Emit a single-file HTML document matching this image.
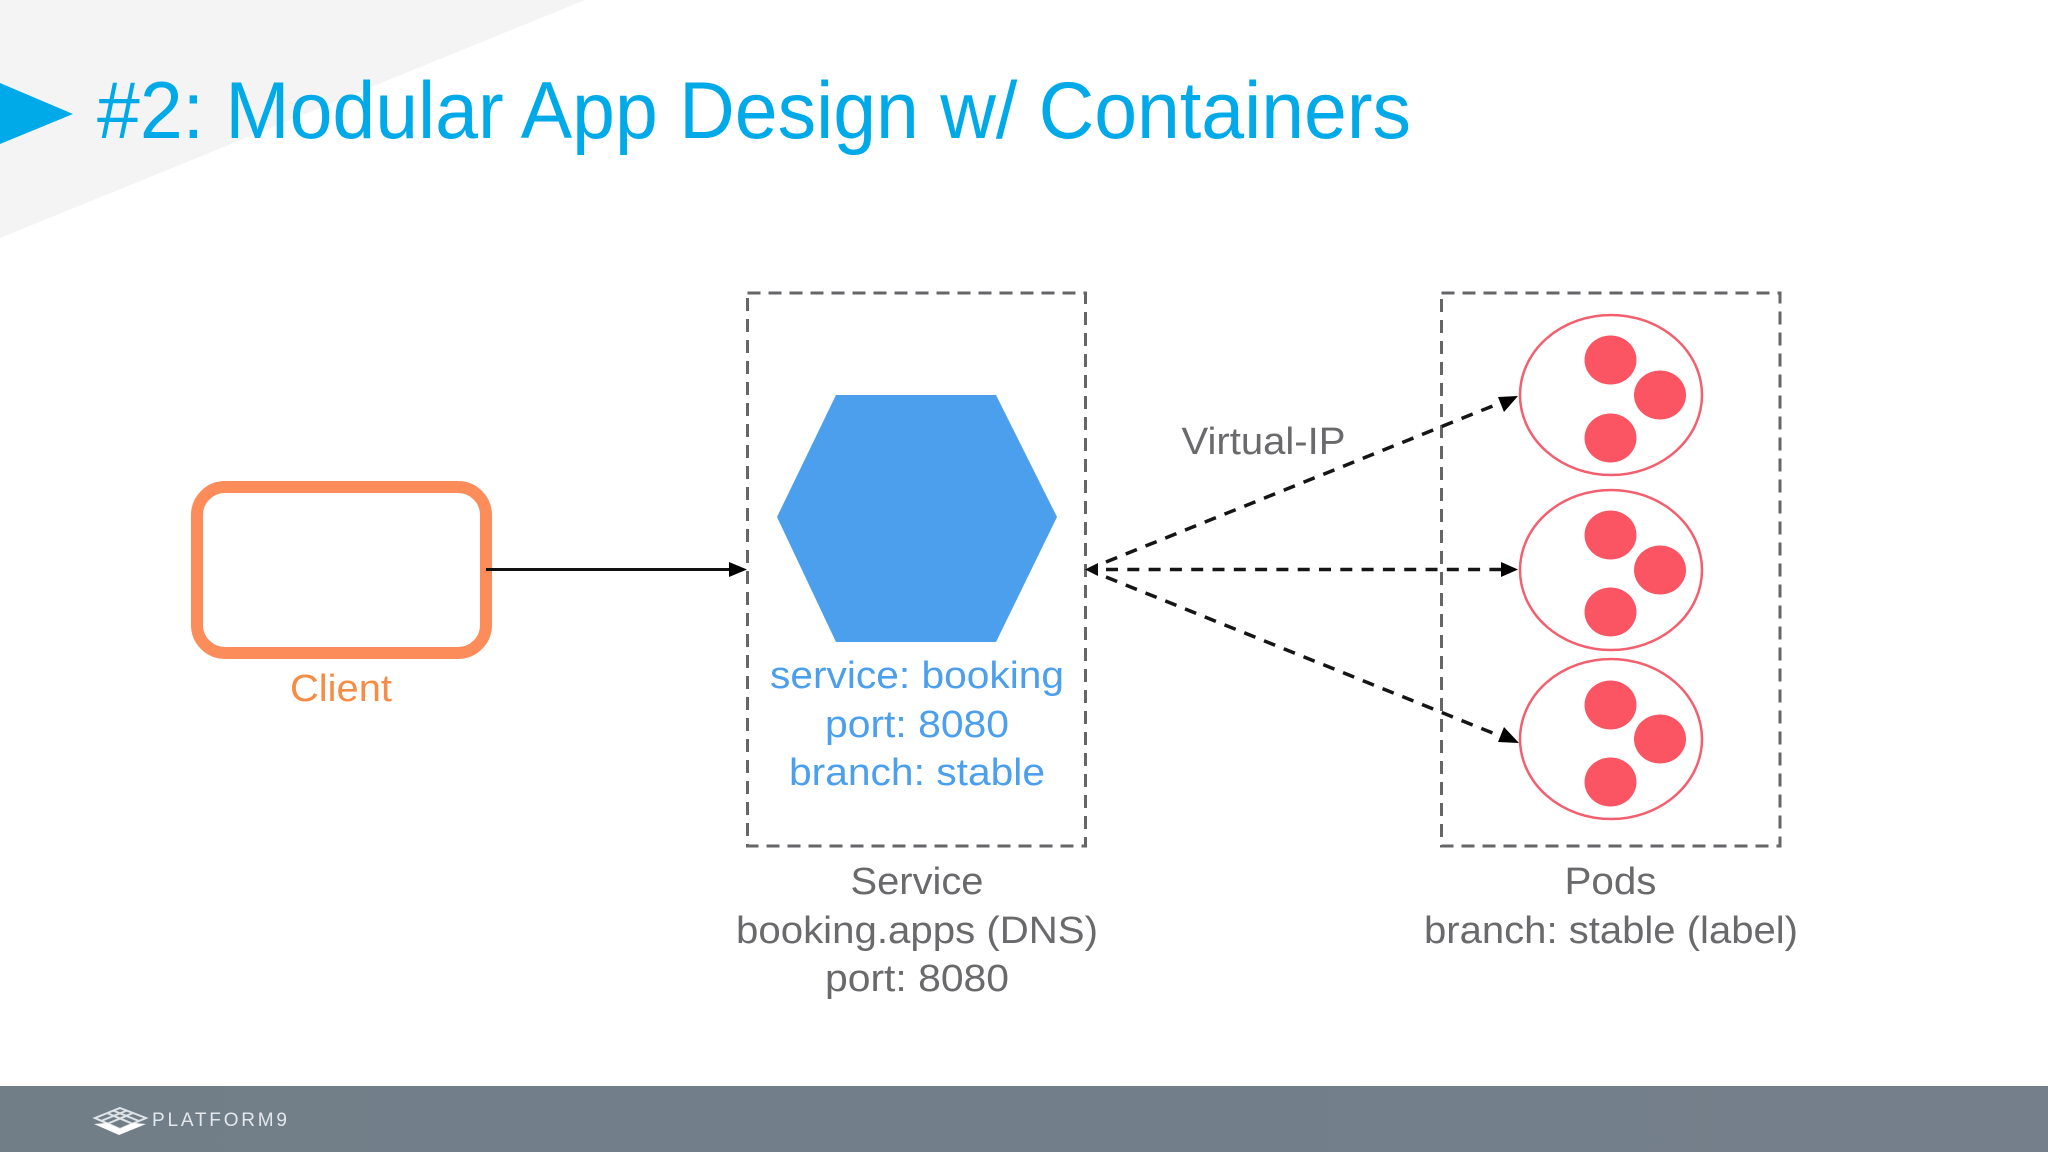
<!DOCTYPE html>
<html>
<head>
<meta charset="utf-8">
<style>
html,body{margin:0;padding:0;background:#fff;width:2048px;height:1152px;overflow:hidden}
svg{display:block}
text{font-family:"Liberation Sans",sans-serif}
</style>
</head>
<body>
<svg width="2048" height="1152" viewBox="0 0 2048 1152" xmlns="http://www.w3.org/2000/svg">
<defs>
<linearGradient id="foot" x1="0" x2="1" y1="0" y2="0"><stop offset="0" stop-color="#717e88"/><stop offset="1" stop-color="#747f8b"/></linearGradient>
</defs>
<rect width="2048" height="1152" fill="#fff"/>
<polygon points="0,0 585,0 0,238" fill="#f4f4f5"/>
<polygon points="0,83 73,114 0,144" fill="#00a9e8"/>
<text x="97" y="138" font-size="81" fill="#00a9e8" textLength="1314" lengthAdjust="spacingAndGlyphs">#2: Modular App Design w/ Containers</text>

<rect x="197" y="487" width="289" height="166" rx="28" ry="28" fill="#fff" stroke="#fd8c5b" stroke-width="12"/>
<text x="341" y="701" font-size="38" fill="#f68c46" text-anchor="middle" textLength="102" lengthAdjust="spacingAndGlyphs">Client</text>

<line x1="486" y1="569.5" x2="735" y2="569.5" stroke="#111" stroke-width="3"/>
<polygon points="747,569.5 729,562 729,577" fill="#000"/>

<rect x="747.5" y="293" width="338" height="553" fill="none" stroke="#666669" stroke-width="3" stroke-dasharray="13 8"/>
<rect x="1441.5" y="293" width="338.5" height="553" fill="none" stroke="#666669" stroke-width="3" stroke-dasharray="13 8"/>

<polygon points="836,395 996,395 1057,517 996,642 836,642 777,517" fill="#4b9fec"/>

<text x="917" y="688" font-size="38" fill="#4b9fec" text-anchor="middle" textLength="294" lengthAdjust="spacingAndGlyphs">service: booking</text>
<text x="917" y="737" font-size="38" fill="#4b9fec" text-anchor="middle" textLength="184" lengthAdjust="spacingAndGlyphs">port: 8080</text>
<text x="917" y="785" font-size="38" fill="#4b9fec" text-anchor="middle" textLength="256" lengthAdjust="spacingAndGlyphs">branch: stable</text>

<text x="917" y="894" font-size="38" fill="#6a6a6d" text-anchor="middle" textLength="133" lengthAdjust="spacingAndGlyphs">Service</text>
<text x="917" y="943" font-size="38" fill="#6a6a6d" text-anchor="middle" textLength="362" lengthAdjust="spacingAndGlyphs">booking.apps (DNS)</text>
<text x="917" y="991" font-size="38" fill="#6a6a6d" text-anchor="middle" textLength="184" lengthAdjust="spacingAndGlyphs">port: 8080</text>

<text x="1610.5" y="894" font-size="38" fill="#6a6a6d" text-anchor="middle" textLength="92" lengthAdjust="spacingAndGlyphs">Pods</text>
<text x="1611" y="943" font-size="38" fill="#6a6a6d" text-anchor="middle" textLength="374" lengthAdjust="spacingAndGlyphs">branch: stable (label)</text>

<text x="1263.5" y="454" font-size="38" fill="#6a6a6d" text-anchor="middle" textLength="164" lengthAdjust="spacingAndGlyphs">Virtual-IP</text>

<g fill="#fff" stroke="#f2606f" stroke-width="2.5">
<ellipse cx="1611" cy="395" rx="91" ry="80"/>
<ellipse cx="1611" cy="570" rx="91" ry="80"/>
<ellipse cx="1611" cy="739" rx="91" ry="80"/>
</g>
<g fill="#fb5463">
<ellipse cx="1610.5" cy="360" rx="26" ry="24.5"/>
<ellipse cx="1660" cy="395" rx="26" ry="24.5"/>
<ellipse cx="1610.5" cy="438" rx="26" ry="24.5"/>
<ellipse cx="1610.5" cy="535" rx="26" ry="24.5"/>
<ellipse cx="1660" cy="570" rx="26" ry="24.5"/>
<ellipse cx="1610.5" cy="612" rx="26" ry="24.5"/>
<ellipse cx="1610.5" cy="705" rx="26" ry="24.5"/>
<ellipse cx="1660" cy="739" rx="26" ry="24.5"/>
<ellipse cx="1610.5" cy="782" rx="26" ry="24.5"/>
</g>

<g stroke="#151515" stroke-width="3.5" stroke-dasharray="12 9.3" fill="none">
<line x1="1106" y1="562" x2="1505" y2="401"/>
<line x1="1106" y1="569.5" x2="1505" y2="569.5"/>
<line x1="1106" y1="577" x2="1505" y2="738"/>
</g>
<polygon points="1085,569.5 1098,563 1098,576" fill="#0d0d0d"/>
<polygon points="1518,396 1498,397 1504,412" fill="#000"/>
<polygon points="1518,569.5 1501,562 1501,577" fill="#000"/>
<polygon points="1519,743 1504,727 1498,742" fill="#000"/>

<rect x="0" y="1086" width="2048" height="66" fill="url(#foot)"/>
<g fill="none" stroke="#dfe4e8" stroke-width="2">
<polygon points="120,1108 146,1118 120,1129 95,1118"/>
<line x1="107" y1="1113" x2="133" y2="1124"/>
<line x1="133" y1="1113" x2="107" y2="1124"/>
<line x1="113" y1="1110.5" x2="139" y2="1121"/>
<line x1="127" y1="1110.5" x2="101" y2="1121"/>
</g>
<polygon points="94,1124 107,1123 120,1129 133,1123 146,1124 119,1135" fill="#fff"/>
<text x="152" y="1126" font-size="19" fill="#e3e8ec" textLength="135" lengthAdjust="spacing">PLATFORM9</text>
</svg>
</body>
</html>
